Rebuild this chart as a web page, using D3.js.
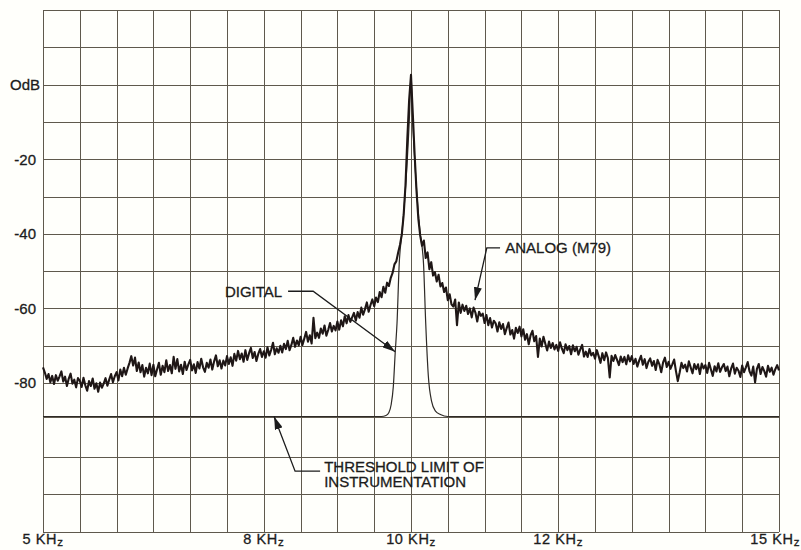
<!DOCTYPE html>
<html>
<head>
<meta charset="utf-8">
<script src="https://cdn.jsdelivr.net/npm/d3@7"></script>
<style>
  html, body { margin: 0; padding: 0; background: #fffffb; }
  svg { display: block; }
  text { font-family: "Liberation Sans", Arial, Helvetica, sans-serif; fill: #1c1c1c; stroke: #1c1c1c; stroke-width: 0.3; }
</style>
</head>
<body>
<svg id="chart" width="801" height="550"></svg>
<script>
// frequency axis (kHz) and level axis (dB)
var xLabels = [5, 8, 10, 12, 15];
var yTicks = [0, -20, -40, -60, -80];
var yLabels = ["OdB", "-20", "-40", "-60", "-80"];

// digital recorder: clean tone over the instrument noise floor
var digitalFreq = [5, 9.6, 9.66, 9.7, 9.73, 9.76, 9.785, 9.81, 9.84, 9.875, 9.91, 9.95, 9.98, 10.0,
  10.02, 10.05, 10.09, 10.12, 10.17, 10.2, 10.235, 10.28, 10.33, 10.4, 10.5, 15];
var digitalDb = [-90, -90, -89.7, -88.8, -86.5, -81, -72, -64, -48, -40, -32, -20, -8, 2.6,
  -8, -20, -32, -39, -48, -64, -78, -85.5, -88.3, -89.4, -90, -90];

// analog (M79) trace, read every 0.025 kHz from 5 to 15 kHz
var analogStart = 5, analogStep = 0.025;
var analogDb = [
  -75.8, -77.2, -78.9, -77.6, -79.8, -78.1, -80.3, -77.9, -79.4, -78.2,
  -76.9, -79.6, -78.3, -80.9, -78.8, -77.5, -80.2, -79.1, -81.3, -78.7,
  -79.4, -81.2, -78.6, -80.7, -82.3, -79.5, -80.9, -78.8, -81.7, -80.1,
  -82.6, -79.9, -81.4, -80.2, -78.7, -80.8, -79.1, -77.6, -79.8, -78.2,
  -77.1, -79.3, -76.4, -78.2, -75.9, -77.8, -76.1, -74.6, -72.8, -75.3,
  -73.2, -76.8, -74.5, -77.1, -75.2, -78.3, -75.9, -77.4, -74.8, -77.9,
  -75.1, -78.2, -76.3, -74.6, -77.8, -75.4, -77.1, -73.9, -76.8, -75.2,
  -77.4, -73.0, -76.2, -73.6, -76.9, -75.1, -77.6, -74.3, -76.5, -75.0,
  -73.8, -76.6, -75.0, -77.3, -74.4, -76.1, -73.5, -75.8, -77.0, -74.6,
  -75.9, -73.7, -76.4, -74.2, -72.6, -75.5, -73.9, -76.1, -74.0, -75.3,
  -72.8, -74.9, -73.1, -75.4, -72.2, -74.0, -71.4, -73.6, -72.1, -74.3,
  -71.2, -73.8, -72.0, -70.6, -73.3, -71.7, -74.1, -72.2, -70.9, -73.0,
  -71.5, -73.2, -70.4, -72.6, -71.1, -69.2, -72.3, -70.7, -71.9, -70.0,
  -71.8, -69.5, -70.9, -68.7, -71.2, -69.8, -67.9, -70.3, -68.6, -69.9,
  -67.6, -69.8, -68.1, -66.3, -68.9, -67.2, -69.4, -62.5, -68.0, -66.5,
  -67.9, -65.4, -66.8, -64.6, -67.3, -65.8, -63.9, -66.2, -64.7, -65.9,
  -63.5, -65.7, -63.2, -64.8, -62.1, -64.0, -61.8, -63.6, -62.4, -61.2,
  -63.3, -61.0, -62.5, -59.8, -61.7, -60.2, -58.4, -60.9, -59.1, -57.6,
  -59.4, -57.1, -58.3, -55.6, -57.0, -54.2, -55.8, -53.1, -54.0, -51.8,
  -50.5, -48.2, -47.4, -45.1, -43.0, -40.2, -35.0, -27.0, -14.5, -4.0,
  2.6, -8.0, -19.0, -28.5, -36.0, -40.5, -43.2, -41.8, -46.5, -45.0,
  -49.5, -47.6, -51.2, -50.3, -52.8, -51.0, -54.1, -53.2, -55.6, -54.4,
  -57.8, -56.2, -58.9, -59.5, -57.6, -64.5, -58.4, -61.2, -59.0, -60.7,
  -59.3, -61.5, -60.0, -62.4, -59.8, -61.1, -63.5, -60.9, -62.0, -61.4,
  -63.9, -61.8, -64.5, -62.6, -65.1, -63.3, -64.0, -66.2, -63.7, -65.5,
  -64.2, -66.9, -65.3, -63.8, -67.0, -65.8, -68.1, -65.2, -66.6, -64.9,
  -67.5, -65.6, -68.4, -66.9, -69.6, -67.2, -66.0, -68.8, -67.4, -73.0,
  -68.1, -70.2, -67.6, -69.5, -71.3, -68.9, -70.6, -69.3, -71.0, -69.8,
  -71.4, -69.1, -70.8, -72.0, -69.6, -71.2, -70.1, -72.3, -69.9, -71.5,
  -70.3, -72.4, -71.0, -69.8, -72.9, -71.6, -73.0, -70.9, -72.6, -71.9,
  -73.5, -71.2, -72.8, -74.6, -72.0, -73.9, -71.8, -73.3, -78.5, -72.7,
  -74.1, -72.5, -73.8, -75.2, -72.9, -74.4, -73.0, -75.0, -72.6, -74.2,
  -72.8, -74.9, -73.5, -75.6, -74.0, -72.7, -75.1, -73.6, -76.0, -74.3,
  -73.4, -75.4, -74.1, -76.5, -73.8, -75.0, -77.1, -74.5, -73.2, -75.7,
  -74.3, -76.2, -75.0, -73.7, -76.8, -79.5, -77.2, -74.6, -76.0, -75.1,
  -76.9, -74.2, -75.8, -77.4, -74.9, -76.3, -75.0, -77.6, -74.8, -76.1,
  -75.2, -77.3, -74.6, -76.4, -78.1, -75.5, -76.9, -74.7, -77.0, -75.8,
  -74.9, -76.8, -75.6, -78.2, -76.1, -74.8, -77.5, -75.9, -76.7, -78.4,
  -75.3, -77.1, -75.8, -74.4, -76.9, -78.0, -75.6, -79.8, -76.2, -74.9,
  -77.6, -75.7, -76.8, -78.3, -75.4, -77.0, -75.9, -77.8, -76.3, -75.2,
  -76.6
];

// callouts: text spot (freq, dB), leader elbow and arrow tip
var notes = [
  { lines: ["DIGITAL"], text: [8.25, -55.4], anchor: "end",
    path: [[8.33, -55.4], [8.67, -55.4], [9.785, -71.6]] },
  { lines: ["ANALOG (M79)"], text: [11.28, -43.8], anchor: "start",
    path: [[11.21, -43.8], [11.03, -43.8], [10.87, -57.8]] },
  { lines: ["THRESHOLD LIMIT OF", "INSTRUMENTATION"], text: [8.82, -102.6], anchor: "start",
    path: [[8.765, -103.9], [8.425, -103.9], [8.14, -90]] }
];

var svg = d3.select("#chart");

var x = d3.scaleLinear().domain([5, 15]).range([43, 779]);
// the scanned grid is a little uneven below -80 dB
var y = d3.scaleLinear().domain([20, -80, -90, -100, -120]).range([10, 383, 416.5, 456.5, 532]);

// grid: 0.5 kHz by 10 dB
var grid = svg.append("g").attr("stroke", "#5f594d").attr("stroke-width", 1);
grid.selectAll("line.v").data(d3.range(5, 15.001, 0.5)).enter().append("line")
  .attr("x1", function (d) { return Math.round(x(d)) + 0.5; })
  .attr("x2", function (d) { return Math.round(x(d)) + 0.5; })
  .attr("y1", y(20)).attr("y2", y(-120));
grid.selectAll("line.h").data(d3.range(-120, 20.001, 10)).enter().append("line")
  .attr("y1", function (d) { return Math.round(y(d)) + 0.5; })
  .attr("y2", function (d) { return Math.round(y(d)) + 0.5; })
  .attr("x1", x(5)).attr("x2", x(15));

// y labels
svg.selectAll("text.ylab").data(yTicks).enter().append("text")
  .attr("x", function (d, i) { return i === 0 ? 40 : 36; })
  .attr("y", function (d) { return y(d); })
  .attr("dy", "0.36em")
  .attr("text-anchor", "end")
  .attr("font-size", 15)
  .text(function (d, i) { return yLabels[i]; });

// x labels, the z of KHz sits low
var xl = svg.selectAll("text.xlab").data(xLabels).enter().append("text")
  .attr("x", function (d) { return d === 15 ? 800 : x(d); })
  .attr("y", 544)
  .attr("text-anchor", function (d) { return d === 15 ? "end" : "middle"; })
  .attr("font-size", 14.5)
  .attr("letter-spacing", 0.6);
xl.append("tspan").text(function (d) { return d + " KH"; });
xl.append("tspan").attr("dy", 2).attr("font-size", 11.5).text("z");

// digital trace
var digital = digitalFreq.map(function (f, i) { return [f, digitalDb[i]]; });
svg.append("path").datum(digital)
  .attr("fill", "none").attr("stroke", "#2e2a26").attr("stroke-width", 1.2)
  .attr("d", d3.line().x(function (d) { return x(d[0]); }).y(function (d) { return y(d[1]); }).curve(d3.curveMonotoneX));

// analog trace
var analog = analogDb.map(function (v, i) { return [analogStart + i * analogStep, v]; });
svg.append("path").datum(analog)
  .attr("fill", "none").attr("stroke", "#1f1716").attr("stroke-width", 2.1).attr("stroke-linejoin", "round")
  .attr("d", d3.line().x(function (d) { return x(d[0]); }).y(function (d) { return y(d[1]); }));

// callouts
svg.append("defs").append("marker")
  .attr("id", "arr").attr("viewBox", "0 0 13 8").attr("refX", 13).attr("refY", 4)
  .attr("markerWidth", 13).attr("markerHeight", 8).attr("markerUnits", "userSpaceOnUse")
  .attr("orient", "auto")
  .append("path").attr("d", "M0,0L13,4L0,8Z").attr("fill", "#1c1c1c");

notes.forEach(function (n) {
  svg.append("path")
    .attr("fill", "none").attr("stroke", "#1c1c1c").attr("stroke-width", 1.3)
    .attr("marker-end", "url(#arr)")
    .attr("d", d3.line()(n.path.map(function (p) { return [x(p[0]), y(p[1])]; })));
  // one text per line so the two lines keep apart
  n.lines.forEach(function (s, i) {
    svg.append("text")
      .attr("x", x(n.text[0]))
      .attr("y", y(n.text[1]) + i * 15.5)
      .attr("dy", "0.36em")
      .attr("text-anchor", n.anchor)
      .attr("font-size", 15)
      .text(s);
  });
});
</script>
</body>
</html>
